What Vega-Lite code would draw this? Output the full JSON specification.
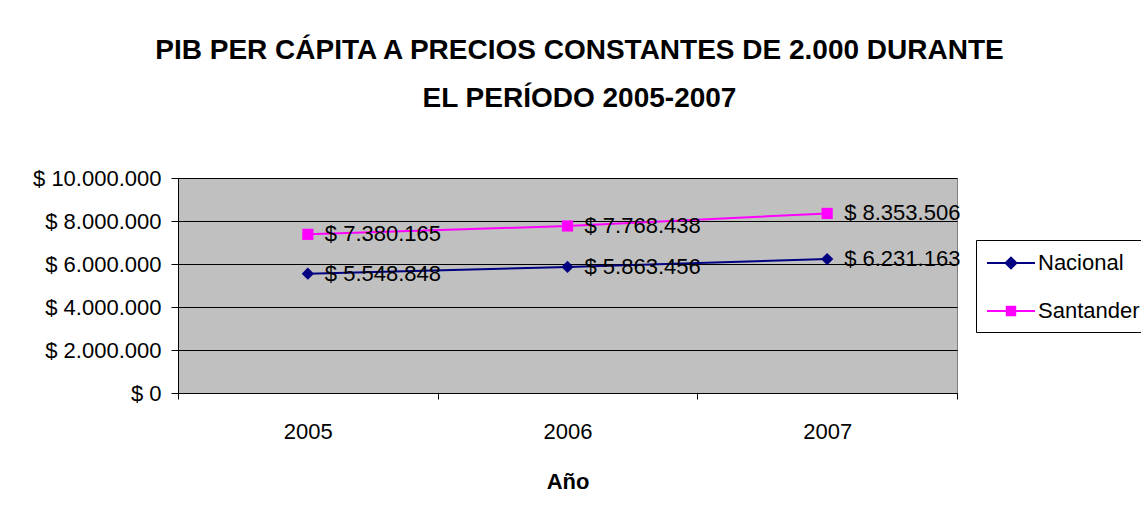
{
  "$schema": "https://vega.github.io/schema/vega-lite/v6.json",
  "width": 779,
  "height": 215,
  "autosize": "none",
  "padding": {"left": 178, "top": 178, "right": 184, "bottom": 128},
  "background": "white",
  "config": {
    "font": "Liberation Sans",
    "locale": {"number": {"decimal": ",", "thousands": ".", "grouping": [3], "currency": ["$ ", ""]}},
    "view": {"fill": "#C0C0C0", "stroke": "#808080", "strokeWidth": 1},
    "legend": {
      "title": null,
      "orient": "none",
      "legendX": 798,
      "legendY": 62,
      "strokeColor": "black",
      "fillColor": "white",
      "padding": 10,
      "labelFontSize": 22,
      "labelColor": "black",
      "labelFont": "Liberation Sans",
      "labelOffset": 26,
      "rowPadding": 24,
      "symbolSize": 576,
      "symbolStrokeWidth": 2,
      "symbolOpacity": 1
    }
  },
  "title": {
    "text": ["PIB PER CÁPITA A PRECIOS CONSTANTES DE 2.000 DURANTE", "EL PERÍODO 2005-2007"],
    "fontSize": 28,
    "fontWeight": "bold",
    "font": "Liberation Sans",
    "color": "black",
    "lineHeight": 48,
    "offset": 54,
    "dx": 12,
    "anchor": "middle"
  },
  "data": {
    "values": [
      {"anio": "2005", "serie": "Nacional", "valor": 5548848},
      {"anio": "2006", "serie": "Nacional", "valor": 5863456},
      {"anio": "2007", "serie": "Nacional", "valor": 6231163},
      {"anio": "2005", "serie": "Santander", "valor": 7380165},
      {"anio": "2006", "serie": "Santander", "valor": 7768438},
      {"anio": "2007", "serie": "Santander", "valor": 8353506}
    ]
  },
  "encoding": {
    "x": {
      "field": "anio",
      "type": "ordinal",
      "scale": {"type": "band", "paddingInner": 0, "paddingOuter": 0},
      "axis": {
        "title": "Año",
        "labelAngle": 0,
        "labelFontSize": 22,
        "labelColor": "black",
        "labelPadding": 22,
        "tickBand": "extent",
        "tickSize": 6,
        "tickColor": "black",
        "domainColor": "black",
        "grid": false,
        "titleFontSize": 22,
        "titleFontWeight": "bold",
        "titleColor": "black",
        "titlePadding": 29
      }
    },
    "y": {
      "field": "valor",
      "type": "quantitative",
      "scale": {"domain": [0, 10000000], "nice": false},
      "axis": {
        "title": null,
        "values": [0, 2000000, 4000000, 6000000, 8000000, 10000000],
        "format": "$,d",
        "labelFontSize": 22,
        "labelColor": "black",
        "labelPadding": 10,
        "tickSize": 7,
        "tickColor": "black",
        "domainColor": "black",
        "grid": true,
        "gridColor": "black",
        "gridOpacity": 1
      }
    },
    "color": {
      "field": "serie",
      "type": "nominal",
      "scale": {"domain": ["Nacional", "Santander"], "range": ["#000080", "#FF00FF"]}
    }
  },
  "layer": [
    {"mark": {"type": "line", "strokeWidth": 2}},
    {
      "transform": [{"filter": "datum.serie === 'Nacional'"}],
      "mark": {"type": "point", "shape": "diamond", "filled": true, "size": 150, "opacity": 1}
    },
    {
      "transform": [{"filter": "datum.serie === 'Santander'"}],
      "mark": {"type": "point", "shape": "square", "filled": true, "size": 125, "opacity": 1}
    },
    {
      "mark": {"type": "text", "align": "left", "baseline": "middle", "dx": 17, "fontSize": 22, "color": "black"},
      "encoding": {
        "text": {"field": "valor", "type": "quantitative", "format": "$,d"},
        "color": {"value": "black"}
      }
    },
    {
      "transform": [{"filter": "false"}],
      "mark": {"type": "point", "filled": false, "strokeWidth": 2, "opacity": 1},
      "encoding": {
        "shape": {
          "field": "serie",
          "type": "nominal",
          "scale": {"domain": ["Nacional", "Santander"], "range": ["M-1,0H3M1,-0.45L1.45,0L1,0.45L0.55,0Z", "M-1,0H3M0.65,-0.35H1.35V0.35H0.65Z"]}
        },
        "fill": {
          "field": "serie",
          "type": "nominal",
          "scale": {"domain": ["Nacional", "Santander"], "range": ["#000080", "#FF00FF"]}
        }
      }
    }
  ]
}
